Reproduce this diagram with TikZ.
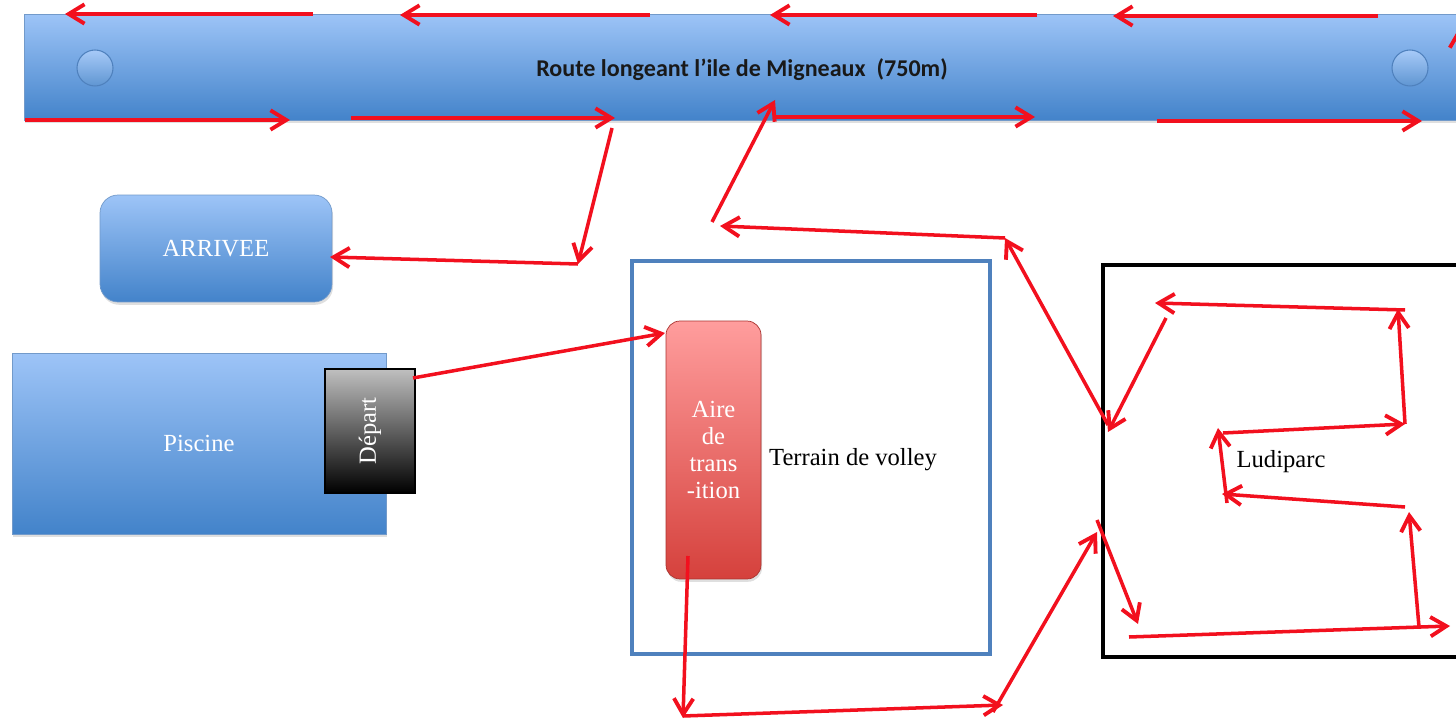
\documentclass[tikz,border=0pt]{standalone}
\usepackage{fontspec}
\setmainfont{Liberation Serif}
\newfontfamily\routefont{Carlito}
\usepackage{xcolor}
\usepackage{tikz}
\usetikzlibrary{arrows.meta, shadows, positioning}

\definecolor{bleuclair}{HTML}{9DC4F7}
\definecolor{bleufonce}{HTML}{4383CA}
\definecolor{bordbleu}{HTML}{4F81BD}
\definecolor{rougeclair}{HTML}{FF9D9D}
\definecolor{rougefonce}{HTML}{D5413C}
\definecolor{rougevif}{HTML}{F2101E}

\begin{document}
\begin{tikzpicture}[x=0.02cm, y=-0.02cm,
        ombre/.style={drop shadow={opacity=0.25, shadow xshift=0.6pt, shadow yshift=-1.6pt}},
        bande/.style={rectangle, draw=bordbleu!80, top color=bleuclair, bottom color=bleufonce, inner sep=0pt, ombre},
        arrondi/.style={bande, rounded corners=0.36cm, text=white, font=\fontsize{14}{16}\selectfont},
        bouee/.style={circle, draw=bordbleu, semithick, top color=bleuclair!90, bottom color=bleufonce!85, minimum size=0.72cm},
        transition/.style={rectangle, rounded corners=0.28cm, draw=rougefonce!80!black, top color=rougeclair, bottom color=rougefonce, text=white, align=center, font=\fontsize{14}{15.3}\selectfont, ombre},
        depart/.style={rectangle, draw=black, thick, top color=black!25, bottom color=black, text=white, font=\fontsize{14}{16}\selectfont, minimum width=1.8cm, minimum height=2.48cm},
        etiquette/.style={text=black, font=\fontsize{14}{16}\selectfont},
        fleche/.style={draw=rougevif, line width=2pt, -{Straight Barb[length=9pt, width=11pt, line width=2.2pt]}}]

        \useasboundingbox (0,0) rectangle (1456,722);
        \clip (0,0) rectangle (1456,722);

        % Nodes
        \node [bande, minimum width=29.12cm, minimum height=2.12cm] (route) at (752,67) {};
        \node [bouee] (boueeg) at (95,68) {};
        \node [bouee] (boueed) at (1410,68) {};
        \node [font=\routefont\bfseries\fontsize{13.7}{16}\selectfont, text=black!90] (routelbl) at (742,70) {Route longeant l’ile de Migneaux~~(750m)};
        \node [arrondi, minimum width=4.64cm, minimum height=2.14cm] (arrivee) at (216,248.5) {ARRIVEE};
        \node [bande, text=white, font=\fontsize{14}{16}\selectfont, minimum width=7.48cm, minimum height=3.62cm] (piscine) at (199,443.5) {Piscine};
        \node [depart] (depart) at (370,431) {\rotatebox{90}{Départ}};
        \node [rectangle, draw=bordbleu, line width=2pt, minimum width=7.16cm, minimum height=7.86cm] (volley) at (811,457.5) {};
        \node [transition, minimum width=1.9cm, minimum height=5.16cm] (aire) at (713.5,450) {Aire\\de\\trans\\-ition};
        \node [etiquette] (volleylbl) at (853,460) {Terrain de volley};
        \node [rectangle, draw=black, line width=2.6pt, minimum width=7.54cm, minimum height=7.84cm] (ludiparc) at (1291.5,461) {};
        \node [etiquette] (ludilbl) at (1281,462) {Ludiparc};

        % Points
        \coordinate (h1) at (313,14);   \coordinate (h2) at (65,14);
        \coordinate (h3) at (650,15);   \coordinate (h4) at (400,15);
        \coordinate (h5) at (1037,15);  \coordinate (h6) at (770,15);
        \coordinate (h7) at (1378,16);  \coordinate (h8) at (1113,16);
        \coordinate (b1) at (25,120);   \coordinate (b2) at (290,120);
        \coordinate (b3) at (351,118);  \coordinate (b4) at (615,118);
        \coordinate (b5) at (775,117);  \coordinate (b6) at (1035,117);
        \coordinate (b7) at (1157,121); \coordinate (b8) at (1422,121);
        \coordinate (e1) at (1461,115); \coordinate (e2) at (1459,28);
        \coordinate (a1) at (612,128);  \coordinate (a2) at (578,264);
        \coordinate (a3) at (330,257);
        \coordinate (d1) at (413,378);  \coordinate (d2) at (665,333);
        \coordinate (v1) at (688,556);  \coordinate (v2) at (683,718);
        \coordinate (v3) at (683,716);  \coordinate (v4) at (1003,705);
        \coordinate (v5) at (993,712);  \coordinate (v6) at (1097,532);
        \coordinate (s1) at (1097,520); \coordinate (s2) at (1138,624);
        \coordinate (s3) at (1129,637); \coordinate (s4) at (1450,626);
        \coordinate (s5) at (1419,627); \coordinate (s6) at (1409,512);
        \coordinate (s7) at (1405,507); \coordinate (s8) at (1222,494);
        \coordinate (s9) at (1227,503); \coordinate (s10) at (1218,428);
        \coordinate (s11) at (1223,433); \coordinate (s12) at (1405,424);
        \coordinate (s13) at (1398,309);
        \coordinate (s14) at (1405,310); \coordinate (s15) at (1155,303);
        \coordinate (s16) at (1166,318); \coordinate (s17) at (1108,432);
        \coordinate (s18) at (1108,425); \coordinate (s19) at (1005,238);
        \coordinate (s20) at (720,226);
        \coordinate (s21) at (712,222); \coordinate (s22) at (775,100);

        % Edges
        \path [fleche] (h1) -- (h2);
        \path [fleche] (h3) -- (h4);
        \path [fleche] (h5) -- (h6);
        \path [fleche] (h7) -- (h8);
        \path [fleche] (b1) -- (b2);
        \path [fleche] (b3) -- (b4);
        \path [fleche] (b5) -- (b6);
        \path [fleche] (b7) -- (b8);
        \path [fleche] (e1) -- (e2);
        \path [fleche] (a1) -- (a2);
        \path [fleche] (a2) -- (a3);
        \path [fleche] (d1) -- (d2);
        \path [fleche] (v1) -- (v2);
        \path [fleche] (v3) -- (v4);
        \path [fleche] (v5) -- (v6);
        \path [fleche] (s1) -- (s2);
        \path [fleche] (s3) -- (s4);
        \path [fleche] (s5) -- (s6);
        \path [fleche] (s7) -- (s8);
        \path [fleche] (s9) -- (s10);
        \path [fleche] (s11) -- (s12);
        \path [fleche] (s12) -- (s13);
        \path [fleche] (s14) -- (s15);
        \path [fleche] (s16) -- (s17);
        \path [fleche] (s18) -- (s19);
        \path [fleche] (s19) -- (s20);
        \path [fleche] (s21) -- (s22);
    \end{tikzpicture}
\end{document}
